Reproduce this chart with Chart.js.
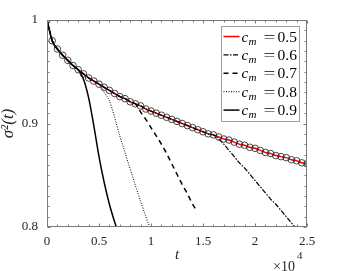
<!DOCTYPE html>
<html>
<head>
<meta charset="utf-8">
<script src="https://cdn.jsdelivr.net/npm/chart.js@4"></script>
<style>
  html, body { margin: 0; padding: 0; background: #fff; }
</style>
</head>
<body>
<canvas id="chart" width="339" height="271"></canvas>
<script>
// time grid (t), shared by the c_m = 0.5 curve and its markers
const tGrid = [0, 500, 1000, 1500, 2000, 2500, 3000, 3500, 4000, 4500,
  5000, 5500, 6000, 6500, 7000, 7500, 8000, 8500, 9000, 9500,
  10000, 10500, 11000, 11500, 12000, 12500, 13000, 13500, 14000, 14500,
  15000, 15500, 16000, 16500, 17000, 17500, 18000, 18500, 19000, 19500,
  20000, 20500, 21000, 21500, 22000, 22500, 23000, 23500, 24000, 24500, 25000];

// sigma^2(t) for c_m = 0.5
const sigma05 = [1.000, 0.980, 0.972, 0.966, 0.961, 0.956, 0.952, 0.948, 0.944, 0.941,
  0.938, 0.935, 0.932, 0.929, 0.926, 0.924, 0.921, 0.919, 0.917, 0.914,
  0.912, 0.910, 0.908, 0.906, 0.904, 0.902, 0.900, 0.898, 0.896, 0.894,
  0.892, 0.890, 0.889, 0.887, 0.885, 0.884, 0.882, 0.880, 0.879, 0.877,
  0.876, 0.874, 0.872, 0.871, 0.869, 0.868, 0.867, 0.865, 0.864, 0.862, 0.861];

// the other curves follow c_m = 0.5 up to a split time, then fall away
const split06 = 16000;
const tail06T = [16500, 17000, 17500, 18000, 18500, 19000, 19500, 20000, 20500, 21000, 21500, 22000, 22500, 23000, 23500, 24000];
const tail06 = [0.885, 0.880, 0.874, 0.868, 0.862, 0.857, 0.851, 0.845, 0.839, 0.833, 0.827, 0.822, 0.816, 0.810, 0.804, 0.798];

const split07 = 8500;
const tail07T = [9000, 9500, 10000, 10500, 11000, 11500, 12000, 12500, 13000, 13500, 14000, 14300];
const tail07 = [0.911, 0.904, 0.896, 0.888, 0.880, 0.871, 0.861, 0.851, 0.841, 0.832, 0.822, 0.817];

const split08 = 5000;
const tail08T = [5500, 6000, 6500, 7000, 7500, 8000, 8500, 9000, 9500, 10000];
const tail08 = [0.930, 0.922, 0.906, 0.888, 0.872, 0.856, 0.840, 0.825, 0.810, 0.797];

const split09 = 3000;
const tail09T = [3500, 4000, 4500, 5000, 5500, 6000, 6500, 7000];
const tail09 = [0.943, 0.925, 0.898, 0.868, 0.843, 0.822, 0.805, 0.790];

const cmValues = ['0.5', '0.6', '0.7', '0.8', '0.9'];

const xTicks = [0, 5000, 10000, 15000, 20000, 25000];
const yTicks = [0.8, 0.9, 1];

const SERIF = '"Liberation Serif", "DejaVu Serif", serif';
const TEXT = '#262626';
const FRAME = '#7a7a7a';

function basePoints(limit) {
  const pts = [];
  tGrid.forEach((t, i) => { if (t <= limit) pts.push({ x: t, y: sigma05[i] }); });
  return pts;
}
function branch(split, tailT, tailV) {
  const pts = basePoints(split);
  tailT.forEach((t, i) => pts.push({ x: t, y: tailV[i] }));
  return pts;
}

// inward ticks on all four sides + box, MATLAB style
const frameTicks = {
  id: 'frameTicks',
  afterDatasetsDraw(chart) {
    const { ctx, chartArea: a, scales: { x, y } } = chart;
    const L = Math.round(a.left) + 0.5, R = Math.round(a.right) - 0.5;
    const T = Math.round(a.top) + 0.5, B = Math.round(a.bottom) - 0.5;
    ctx.save();
    ctx.strokeStyle = FRAME;
    ctx.lineWidth = 1;
    ctx.beginPath();
    for (let i = 0; i <= 25; i++) {
      const px = Math.round(x.getPixelForValue(i * 1000)) + 0.5;
      const len = i % 5 === 0 ? 3 : 2;
      ctx.moveTo(px, B); ctx.lineTo(px, B - len);
      ctx.moveTo(px, T); ctx.lineTo(px, T + len);
    }
    for (let i = 0; i <= 20; i++) {
      const py = Math.round(y.getPixelForValue(0.8 + i * 0.01)) + 0.5;
      const len = i % 10 === 0 ? 3 : 2;
      ctx.moveTo(L, py); ctx.lineTo(L + len, py);
      ctx.moveTo(R, py); ctx.lineTo(R - len, py);
    }
    ctx.stroke();
    ctx.strokeRect(L, T, R - L, B - T);

    // x10^4 exponent label
    ctx.fillStyle = TEXT;
    ctx.textBaseline = 'alphabetic';
    ctx.textAlign = 'right';
    ctx.font = '14px ' + SERIF;
    ctx.fillText('\u00d710', a.right - 12, a.bottom + 44);
    ctx.textAlign = 'left';
    ctx.font = '11px ' + SERIF;
    ctx.fillText('4', a.right - 10, a.bottom + 32);
    ctx.restore();
  }
};

// boxed legend inside the top right corner
const boxLegend = {
  id: 'boxLegend',
  afterDraw(chart) {
    const { ctx, chartArea: a } = chart;
    const bx = Math.round(a.right - 86) + 0.5, by = Math.round(a.top + 6) + 0.5;
    const bw = 78, bh = 95;
    ctx.save();
    ctx.fillStyle = '#fff';
    ctx.fillRect(bx, by, bw, bh);
    ctx.strokeStyle = '#a0a0a0';
    ctx.lineWidth = 1;
    ctx.strokeRect(bx, by, bw, bh);
    const legendSets = chart.data.datasets.filter(d => d.cm);
    legendSets.forEach((d, i) => {
      const cy = by + 10 + i * 18.4;
      ctx.beginPath();
      ctx.setLineDash(d.borderDash || []);
      ctx.strokeStyle = d.borderColor;
      ctx.lineWidth = d.borderWidth;
      ctx.moveTo(bx + 2, cy);
      ctx.lineTo(bx + 18, cy);
      ctx.stroke();
      ctx.setLineDash([]);
      ctx.fillStyle = '#000';
      ctx.textBaseline = 'alphabetic';
      ctx.textAlign = 'left';
      const base = cy + 5;
      ctx.font = 'italic 15px ' + SERIF;
      ctx.fillText('c', bx + 20, base);
      ctx.font = 'italic 11px ' + SERIF;
      ctx.fillText('m', bx + 27, base + 3);
      // wide, TeX-like equals sign
      ctx.save();
      ctx.translate(bx + 48, base);
      ctx.scale(1.4, 1);
      ctx.font = '15px ' + SERIF;
      ctx.textAlign = 'center';
      ctx.fillText('=', 0, 0);
      ctx.restore();
      ctx.font = '15.5px ' + SERIF;
      ctx.textAlign = 'left';
      ctx.fillText(d.cm, bx + 56, base);
    });
    ctx.restore();
  }
};

const ctx = document.getElementById('chart').getContext('2d');
new Chart(ctx, {
  type: 'line',
  plugins: [frameTicks, boxLegend],
  data: {
    datasets: [
      {
        label: 'markers',
        data: basePoints(25000),
        showLine: false,
        pointRadius: 3.3,
        pointBorderWidth: 0.8,
        pointBorderColor: '#1a1a1a',
        pointBackgroundColor: 'rgba(0,0,0,0)',
        order: 0,
      },
      {
        cm: cmValues[0],
        data: basePoints(25000),
        borderColor: '#ff0000',
        borderWidth: 1.5,
        pointRadius: 0,
        cubicInterpolationMode: 'monotone',
        order: 5,
      },
      {
        cm: cmValues[1],
        data: branch(split06, tail06T, tail06),
        borderColor: '#000',
        borderWidth: 1.2,
        borderDash: [5, 1.5, 1.5, 1.5],
        pointRadius: 0,
        cubicInterpolationMode: 'monotone',
        order: 4,
      },
      {
        cm: cmValues[2],
        data: branch(split07, tail07T, tail07),
        borderColor: '#000',
        borderWidth: 1.5,
        borderDash: [5, 4],
        pointRadius: 0,
        cubicInterpolationMode: 'monotone',
        order: 3,
      },
      {
        cm: cmValues[3],
        data: branch(split08, tail08T, tail08),
        borderColor: '#000',
        borderWidth: 1,
        borderDash: [1, 1.5],
        pointRadius: 0,
        cubicInterpolationMode: 'monotone',
        order: 2,
      },
      {
        cm: cmValues[4],
        data: branch(split09, tail09T, tail09),
        borderColor: '#000',
        borderWidth: 1.5,
        pointRadius: 0,
        cubicInterpolationMode: 'monotone',
        order: 1,
      },
    ],
  },
  options: {
    responsive: false,
    animation: false,
    layout: { padding: { top: 20, right: 32, left: 0, bottom: 0 } },
    plugins: { legend: { display: false }, tooltip: { enabled: false } },
    scales: {
      x: {
        type: 'linear',
        min: 0,
        max: 25000,
        afterFit: (s) => { s.height = 44; },
        afterBuildTicks: (s) => { s.ticks = xTicks.map(v => ({ value: v })); },
        grid: { display: false, drawTicks: false },
        border: { display: false },
        ticks: {
          color: TEXT,
          padding: 7,
          font: { family: SERIF, size: 13 },
          maxRotation: 0,
          callback: (v) => String(+(v / 10000).toFixed(1)),
        },
        title: {
          display: true,
          text: 't',
          color: TEXT,
          font: { family: SERIF, size: 15, style: 'italic' },
          padding: { top: 0, bottom: 7 },
        },
      },
      y: {
        type: 'linear',
        min: 0.8,
        max: 1,
        afterFit: (s) => { s.width = 47; },
        afterBuildTicks: (s) => { s.ticks = yTicks.map(v => ({ value: v })); },
        grid: { display: false, drawTicks: false },
        border: { display: false },
        ticks: {
          color: TEXT,
          padding: 9,
          font: { family: SERIF, size: 13 },
          callback: (v) => String(+v.toFixed(1)),
        },
        title: {
          display: true,
          text: '\u03c3\u00b2(t)',
          color: TEXT,
          font: { family: SERIF, size: 17, style: 'italic', lineHeight: 1 },
          padding: { top: 0, bottom: 0 },
        },
      },
    },
  },
});
</script>
</body>
</html>
